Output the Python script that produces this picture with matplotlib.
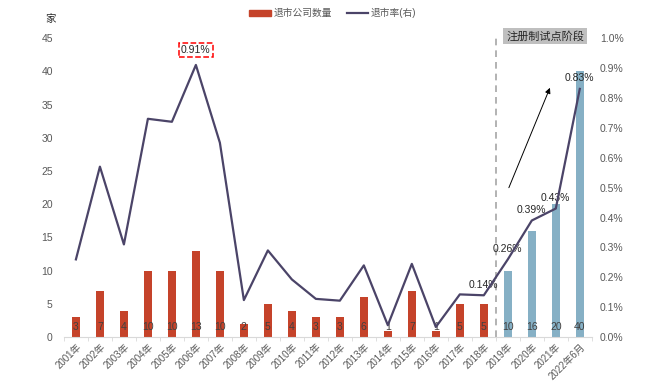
import numpy as np
import matplotlib.pyplot as plt
from matplotlib.ticker import FuncFormatter, MultipleLocator

plt.rcParams['font.family'] = ['Liberation Sans', 'Noto Sans CJK SC', 'DejaVu Sans']

# data
years = ['2001年', '2002年', '2003年', '2004年', '2005年', '2006年', '2007年',
         '2008年', '2009年', '2010年', '2011年', '2012年', '2013年', '2014年',
         '2015年', '2016年', '2017年', '2018年', '2019年', '2020年', '2021年',
         '2022年6月']
delist_count = [3, 7, 4, 10, 10, 13, 10, 2, 5, 4, 3, 3, 6, 1, 7, 1, 5, 5,
                10, 16, 20, 40]
delist_rate = [0.26, 0.57, 0.31, 0.73, 0.72, 0.91, 0.65, 0.124, 0.29, 0.193,
               0.128, 0.122, 0.24, 0.04, 0.245, 0.034, 0.143, 0.14,
               0.26, 0.39, 0.43, 0.83]
labelled_rates = {5: '0.91%', 17: '0.14%', 18: '0.26%', 19: '0.39%',
                  20: '0.43%', 21: '0.83%'}

red = '#C5432A'
blue = '#86B0C5'
line_col = '#4B4468'
tick_col = '#595959'

fig = plt.figure(figsize=(6.59, 3.88), dpi=100)
ax = fig.add_axes([0.097, 0.131, 0.801, 0.771])
ax2 = ax.twinx()

x = np.arange(len(years))
colors = [red if i < 18 else blue for i in x]
ax.bar(x, delist_count, width=0.34, color=colors, zorder=2)
for i, v in enumerate(delist_count):
    ax.text(i, 1.6, str(v), ha='center', va='center', fontsize=7.5,
            color='#404040', zorder=3)

ax2.plot(x, delist_rate, color=line_col, lw=1.6, zorder=4)
for i, txt in labelled_rates.items():
    if i == 5:
        ax2.text(i, delist_rate[i] + 0.05, txt, ha='center', va='center',
                 fontsize=7.5, color='#262626',
                 bbox=dict(boxstyle='square,pad=0.2', fc='white', ec='red',
                           ls='--', lw=1.1))
    else:
        ax2.text(i, delist_rate[i] + 0.035, txt, ha='center', va='center',
                 fontsize=7.5, color='#262626')

ax.set_xlim(-0.5, len(years) - 0.5)
ax.set_ylim(0, 45)
ax2.set_ylim(0, 1.0)
ax.yaxis.set_major_locator(MultipleLocator(5))
ax2.yaxis.set_major_locator(MultipleLocator(0.1))
ax2.yaxis.set_major_formatter(FuncFormatter(lambda v, p: f'{v:.1f}%'))

ax.set_xticks(x)
ax.set_xticklabels(years, rotation=45, ha='right', rotation_mode='anchor',
                   fontsize=7, color=tick_col)
ax.set_xticks(np.arange(-0.5, len(years), 1), minor=True)
ax.tick_params(axis='x', which='major', length=0, pad=3)
ax.tick_params(axis='x', which='minor', length=3, color='#D9D9D9')
ax.tick_params(axis='y', length=0, labelsize=7.5, labelcolor=tick_col, pad=8)
ax2.tick_params(axis='y', length=0, labelsize=7.5, labelcolor=tick_col, pad=6)

for a in (ax, ax2):
    for s in a.spines.values():
        s.set_visible(False)
ax.spines['bottom'].set_visible(True)
ax.spines['bottom'].set_color('#D9D9D9')

# registration pilot divider
ax.axvline(17.5, ymin=0, ymax=1.0, color='#A6A6A6', ls=(0, (4, 3)), lw=1.2,
           zorder=1)
ax.text(19.55, 45.3, '注册制试点阶段', ha='center', va='center', fontsize=8,
        color='#262626', clip_on=False,
        bbox=dict(boxstyle='square,pad=0.25', fc='#BFBFBF', ec='none'))
ax.annotate('', xy=(19.8, 37.9), xytext=(18.0, 22.1),
            arrowprops=dict(arrowstyle='-|>', color='black', lw=0.7,
                            mutation_scale=8))

fig.text(0.076, 0.951, '家', fontsize=7.5, color='#262626', ha='center',
         va='center')

h1 = plt.Rectangle((0, 0), 1, 1, color=red)
h2, = plt.plot([], [], color=line_col, lw=1.6)
fig.legend([h1, h2], ['退市公司数量', '退市率(右)'], loc='center',
           bbox_to_anchor=(0.505, 0.966), ncol=2, frameon=False, fontsize=7,
           handlelength=2.2, handleheight=0.5, columnspacing=1.5,
           handletextpad=0.3, labelcolor=tick_col)

fig.savefig('out.png', dpi=100)
